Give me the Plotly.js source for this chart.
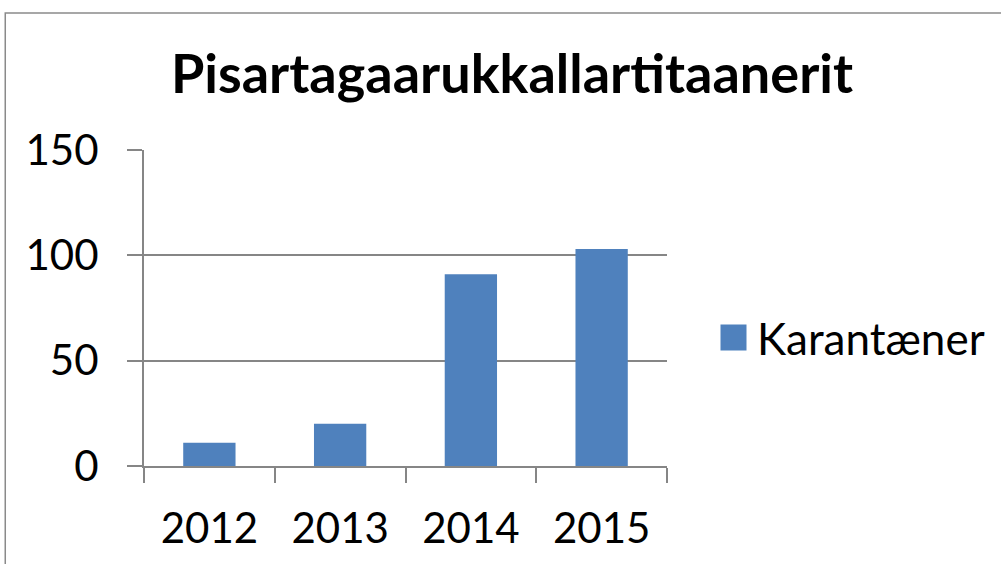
<!DOCTYPE html>
<html>
<head>
<meta charset="utf-8">
<script src="https://cdn.plot.ly/plotly-3.0.1.min.js"></script>
<style>
html,body{margin:0;padding:0;background:#fff;}
#chart{width:1001px;height:564px;}
</style>
</head>
<body>
<div id="chart"></div>
<script>
const years = ['2012', '2013', '2014', '2015'];
const karantaener = [11, 20, 91, 103];
const seriesName = 'Karantæner';
const chartTitle = 'Pisartagaarukkallartitaanerit';
const yTicks = [0, 50, 100, 150];

const W = 1001, H = 564;
const L = 144, R = 668, T = 150, B = 466;
const pw = R - L, ph = B - T;
function px(x){ return (x - L) / pw; }
function py(y){ return (B - y) / ph; }

const font = 'Lato, "Open Sans", sans-serif';
const gray = '#868686';

const data = [{
  type: 'bar',
  x: years,
  y: karantaener,
  name: seriesName,
  marker: {color: '#4F81BD'},
  showlegend: true
}];

const layout = {
  width: W, height: H,
  margin: {l: L, r: W - R, t: T, b: H - B, pad: 0},
  paper_bgcolor: '#fff',
  plot_bgcolor: '#fff',
  font: {family: font, color: '#000'},
  title: {
    text: '<b>' + chartTitle + '</b>',
    font: {family: font, size: 54, color: '#000'},
    xref: 'container', yref: 'container',
    x: 512 / W, xanchor: 'center',
    y: 1 - 74 / H, yanchor: 'middle'
  },
  bargap: 0.6,
  xaxis: {
    type: 'category',
    showline: true, linecolor: gray, linewidth: 2,
    ticks: 'outside', ticklen: 15, tickcolor: gray, tickwidth: 2,
    tickson: 'boundaries',
    tickfont: {family: font, size: 42, color: '#000'},
    ticklabelstandoff: 25,
    showgrid: false, zeroline: false,
    fixedrange: true
  },
  yaxis: {
    range: [0, 150],
    tickvals: yTicks,
    ticktext: yTicks.map(String),
    showline: true, linecolor: gray, linewidth: 2,
    ticks: 'outside', ticklen: 15, tickcolor: gray, tickwidth: 2,
    tickfont: {family: font, size: 42, color: '#000'},
    ticklabelstandoff: 20,
    showgrid: true, gridcolor: gray, gridwidth: 2,
    zeroline: false,
    fixedrange: true
  },
  legend: {
    x: px(710), xanchor: 'left',
    y: py(338), yanchor: 'middle',
    font: {family: font, size: 44, color: '#000'},
    bgcolor: 'rgba(0,0,0,0)',
    itemwidth: 37
  },
  shapes: [{
    type: 'rect', xref: 'paper', yref: 'paper',
    x0: px(5), x1: px(1010), y0: py(575), y1: py(13),
    line: {color: '#8a8a8a', width: 1.5},
    fillcolor: 'rgba(0,0,0,0)',
    layer: 'below'
  }]
};

Plotly.newPlot('chart', data, layout, {displayModeBar: false, staticPlot: true}).then(function(gd){
  // enlarge the legend swatch to match the reference's larger square key
  gd.querySelectorAll('.legendpoints path').forEach(function(p){
    p.setAttribute('d', 'M13,13H-13V-13H13Z');
  });
});
</script>
</body>
</html>
